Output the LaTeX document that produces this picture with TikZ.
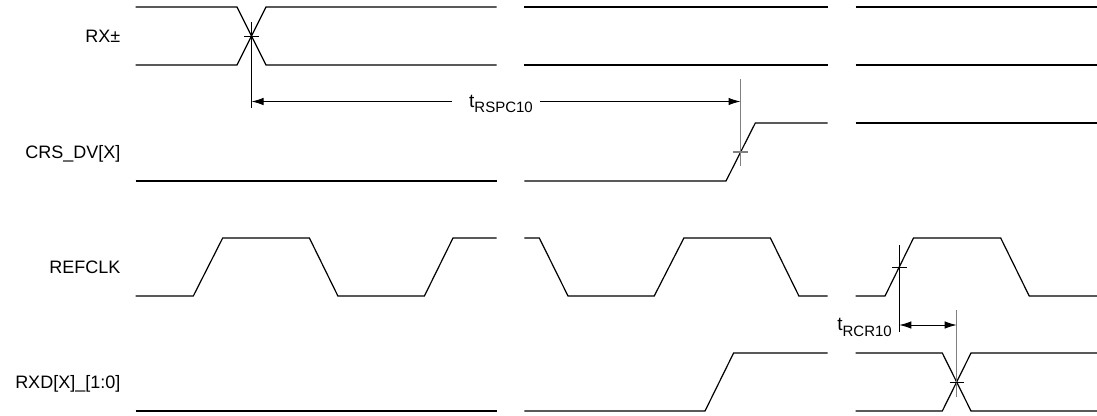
\documentclass[tikz,border=0pt]{standalone}
\usepackage{fontspec}
\setmainfont{Liberation Sans}
\usetikzlibrary{arrows.meta}
\newcommand{\tlab}[1]{{\fontsize{19}{19}\selectfont t}{\fontsize{15}{15}\selectfont\raisebox{-5.5pt}{#1}}}
\begin{document}
\begin{tikzpicture}[x=1pt,y=-1pt,
  sig/.style={line width=1.2pt, line join=miter},
  vmark/.style={line width=1pt},
  gmark/.style={line width=1.5pt, draw=black!50},
  dimarr/.style={line width=1pt, -{Latex[length=12pt,width=7.5pt]}},
  lbl/.style={anchor=base east, inner sep=0pt, font=\fontsize{18}{18}\selectfont}]
\useasboundingbox (0,0) rectangle (1097,415);

% signal names
\node[lbl] (lRX)  at (120.5,42.5)  {RX±};
\node[lbl] (lCRS) at (120.5,158.5) {CRS\_DV[X]};
\node[lbl] (lREF) at (120.5,273.5) {REFCLK};
\node[lbl] (lRXD) at (120.5,388)   {RXD[X]\_[1:0]};

% RX+-
\draw[sig] (135.7,7) -- (237,7) -- (266,65) -- (496.7,65);
\draw[sig] (135.7,65) -- (237,65) -- (266,7) -- (496.7,7);
\draw[sig] (524.3,7) -- (827.7,7);
\draw[sig] (524.3,65) -- (827.7,65);
\draw[sig] (855.7,7) -- (1097,7);
\draw[sig] (855.7,65) -- (1097,65);

% CRS_DV
\draw[sig] (135.7,181) -- (496.7,181);
\draw[sig] (524.3,181) -- (726,181) -- (755.3,123) -- (827.7,123);
\draw[sig] (855.7,123) -- (1097,123);

% REFCLK
\draw[sig] (135.7,296) -- (193.3,296) -- (222.7,238) -- (309.4,238) -- (337.9,296)
  -- (424.4,296) -- (453,238) -- (496.7,238);
\draw[sig] (524.3,238) -- (539.3,238) -- (568,296) -- (654.2,296) -- (683.9,238)
  -- (770.4,238) -- (798.9,296) -- (827.7,296);
\draw[sig] (855.7,296) -- (885,296) -- (913.5,238) -- (1000.7,238) -- (1029.2,296) -- (1097,296);

% RXD
\draw[sig] (135.7,411) -- (496.7,411);
\draw[sig] (524.3,411) -- (705,411) -- (733.6,353) -- (827.7,353);
\draw[sig] (855.7,353) -- (942.3,353) -- (971,411) -- (1097,411);
\draw[sig] (855.7,411) -- (942.3,411) -- (971,353) -- (1097,353);

% markers
\coordinate (m1t) at (251.5,22);   \coordinate (m1b) at (251.5,108);
\coordinate (m2t) at (740.5,79);   \coordinate (m2b) at (740.5,166);
\coordinate (m3t) at (899.3,245);  \coordinate (m3b) at (899.3,332);
\coordinate (m4t) at (956.7,310);  \coordinate (m4b) at (956.7,397);
\draw[vmark] (m1t) -- (m1b);
\draw[vmark] (244,36) -- (259,36);
\draw[gmark] (m2t) -- (m2b);
\draw[gmark] (733,152) -- (748,152);
\draw[vmark] (m3t) -- (m3b);
\draw[vmark] (892,267) -- (907,267);
\draw[gmark] (m4t) -- (m4b);
\draw[vmark] (949.5,382) -- (964,382);

% t_RSPC10
\node[anchor=base west, inner sep=0pt] (tRSPC) at (469,107) {\tlab{RSPC10}};
\coordinate (a1) at (251.5,101.5);
\coordinate (a2) at (740.5,101.5);
\coordinate (g1) at (452,101.5);
\coordinate (g2) at (540,101.5);
\draw[dimarr] (g1) -- (a1);
\draw[dimarr] (g2) -- (a2);

% t_RCR10
\node[anchor=base east, inner sep=0pt] (tRCR) at (892,330.5) {\tlab{RCR10}};
\coordinate (b1) at (899.3,325);
\coordinate (b2) at (956.7,325);
\draw[dimarr, {Latex[length=12pt,width=7.5pt]}-{Latex[length=12pt,width=7.5pt]}] (b1) -- (b2);
\end{tikzpicture}
\end{document}
